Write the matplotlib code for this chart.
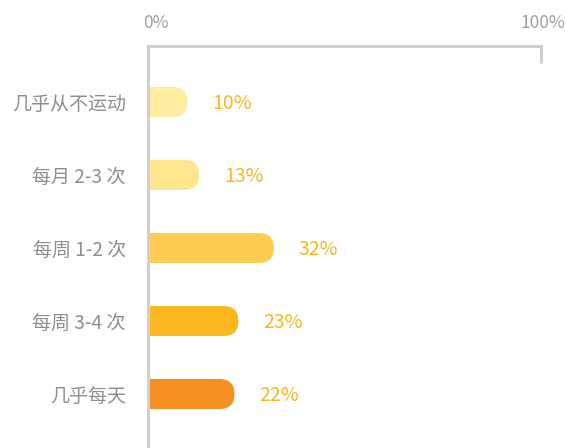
import matplotlib
matplotlib.use("Agg")
import matplotlib.pyplot as plt
from matplotlib.patches import FancyBboxPatch
from matplotlib.transforms import ScaledTranslation

plt.rcParams['font.family'] = ['Noto Sans CJK SC', 'DejaVu Sans']

categories = ['几乎从不运动', '每月 2-3 次', '每周 1-2 次', '每周 3-4 次', '几乎每天']
values = [10, 13, 32, 23, 22]
colors = ['#FFECA0', '#FFE68E', '#FFCB50', '#FCB71E', '#F69121']
label_color = '#F9B81F'
axis_color = '#CFCFCF'
text_gray = '#8E8E8E'

W, H = 566, 448
fig = plt.figure(figsize=(W / 100, H / 100), dpi=100)
ax = fig.add_axes([148 / W, 0, 393 / W, 1 - 46 / H])

ax.set_xlim(0, 100)
ax.set_ylim(4.74, -0.767)

# size of one pixel in data units, for round ends and label gaps
px_x = 100 / 393
px_y = (4.74 + 0.767) / (H - 46)
bar_h = 30 * px_y
r = 15 * px_x

for i, (v, c) in enumerate(zip(values, colors)):
    box = FancyBboxPatch((-2 * r, i - bar_h / 2), v + 2 * r, bar_h,
                         boxstyle=f"round,pad=0,rounding_size={r}",
                         mutation_aspect=px_y / px_x,
                         facecolor=c, edgecolor='none', clip_on=True)
    ax.add_patch(box)
    ax.text(v + 25 * px_x, i + 2 * px_y, f'{v}%', va='center', ha='left',
            fontsize=14, color=label_color)

ax.set_yticks(range(len(categories)))
ax.set_yticklabels(categories, fontsize=13.7, color=text_gray)
ax.tick_params(axis='y', length=0, pad=16)

ax.xaxis.tick_top()
ax.set_xticks([0, 100])
ax.set_xticklabels(['0%', '100%'], fontsize=12.5, color='#A0A0A0')
ax.tick_params(axis='x', direction='in', length=12.5, width=2.2,
               color=axis_color, pad=10)
for lab, dx in zip(ax.get_xticklabels(), [8, 2]):
    lab.set_transform(lab.get_transform() + ScaledTranslation(dx / 100, 0, fig.dpi_scale_trans))

for s in ['right', 'bottom']:
    ax.spines[s].set_visible(False)
for s in ['top', 'left']:
    ax.spines[s].set_color(axis_color)
    ax.spines[s].set_linewidth(2.2)

fig.savefig('out.png', dpi=100)
